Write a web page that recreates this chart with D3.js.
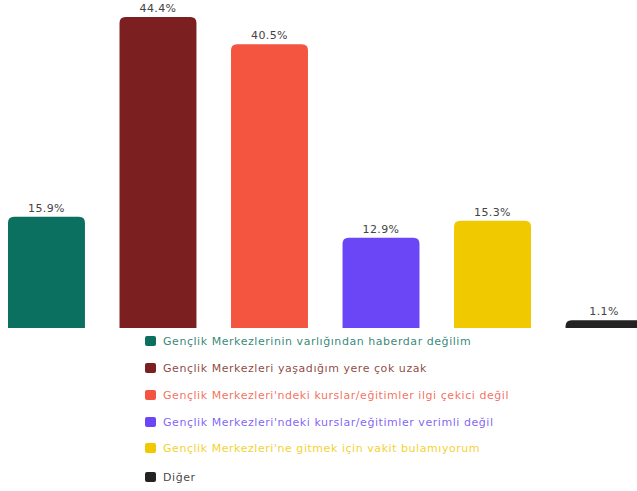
<!DOCTYPE html>
<html>
<head>
<meta charset="utf-8">
<script src="https://cdn.jsdelivr.net/npm/d3@7"></script>
<style>
  html, body { margin: 0; padding: 0; background: #fff; }
  svg { display: block; }
  text { font-family: "DejaVu Sans", "Noto Sans", sans-serif; }
</style>
</head>
<body>
<svg id="chart" width="637" height="491"></svg>
<script>
// Reasons for not using youth centres (% of respondents)
const categories = [
  "Gençlik Merkezlerinin varlığından haberdar değilim",
  "Gençlik Merkezleri yaşadığım yere çok uzak",
  "Gençlik Merkezleri'ndeki kurslar/eğitimler ilgi çekici değil",
  "Gençlik Merkezleri'ndeki kurslar/eğitimler verimli değil",
  "Gençlik Merkezleri'ne gitmek için vakit bulamıyorum",
  "Diğer"
];
const values = [15.9, 44.4, 40.5, 12.9, 15.3, 1.1];
const colors = ["#0b7060", "#7b1f20", "#f45541", "#6a46f6", "#f1c900", "#232323"];

const svg = d3.select("#chart");
const baseline = 328;

const x = d3.scaleBand()
  .domain(categories)
  .range([8, 642.5])
  .paddingInner(0.31)
  .paddingOuter(0);

const y = d3.scaleLinear()
  .domain([0, 44.4])
  .range([baseline, 17]);

// bar path with rounded top corners only
function barPath(x0, w, yTop, yBot, r) {
  r = Math.min(r, (yBot - yTop), w / 2);
  return `M${x0},${yBot}V${yTop + r}Q${x0},${yTop} ${x0 + r},${yTop}` +
         `H${x0 + w - r}Q${x0 + w},${yTop} ${x0 + w},${yTop + r}V${yBot}Z`;
}

const data = categories.map((c, i) => ({ c, v: values[i], col: colors[i] }));

svg.append("g").selectAll("path")
  .data(data)
  .join("path")
  .attr("d", d => barPath(x(d.c), x.bandwidth(), y(d.v), baseline, 6))
  .attr("fill", d => d.col);

svg.append("g").selectAll("text")
  .data(data)
  .join("text")
  .attr("x", d => x(d.c) + x.bandwidth() / 2)
  .attr("y", d => y(d.v) - 5)
  .attr("text-anchor", "middle")
  .attr("font-size", 11)
  .attr("letter-spacing", 0.4)
  .attr("fill", "#444")
  .text(d => d.v.toFixed(1) + "%");

// legend
const legendY = [341, 368, 395, 422, 448, 477];
const legend = svg.append("g").selectAll("g")
  .data(data)
  .join("g")
  .attr("transform", (d, i) => `translate(145,${legendY[i]})`);

legend.append("rect")
  .attr("x", 0).attr("y", -5)
  .attr("width", 11).attr("height", 10)
  .attr("rx", 2)
  .attr("fill", d => d.col);

legend.append("text")
  .attr("x", 18)
  .attr("y", 0)
  .attr("dy", "0.35em")
  .attr("font-size", 11)
  .attr("letter-spacing", 0.55)
  .attr("fill", d => d.col)
  .attr("fill-opacity", 0.85)
  .text(d => d.c);
</script>
</body>
</html>
